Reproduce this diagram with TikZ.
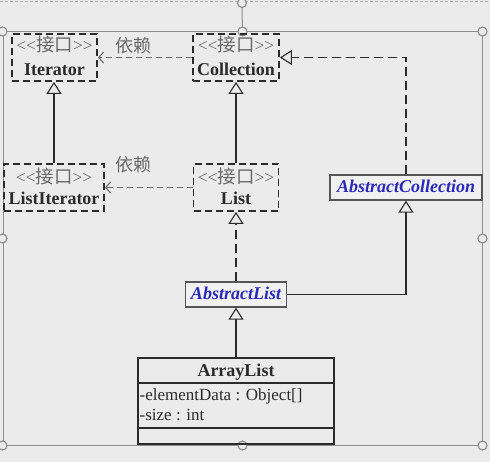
\documentclass[tikz,border=0pt]{standalone}
\usepackage{fontspec}
\setmainfont{Liberation Serif}
\newfontfamily\cjk{Noto Sans CJK SC}
\usetikzlibrary{arrows.meta}
\definecolor{bg}{HTML}{EBEBEB}
\definecolor{frameg}{HTML}{8E8E8E}
\definecolor{ink}{HTML}{2B2B2B}
\definecolor{stg}{HTML}{6A6A6A}
\definecolor{absblue}{HTML}{2A2AB8}
\definecolor{absfill}{HTML}{F1F1F1}
\newcommand\ster{<\kern0pt<{\cjk\fontsize{18.5}{19}\selectfont 接口}>\kern0pt>}
\tikzset{
  ifbox/.style={draw=ink, line width=1.8pt, dash pattern=on 7pt off 4pt, inner sep=0pt},
  absbox/.style={draw=ink!80, line width=1.3pt, fill=absfill, inner sep=0pt},
  clsbox/.style={draw=ink, line width=1.8pt, inner sep=0pt},
  stereo/.style={text=stg, inner sep=0pt, font=\fontsize{17.5}{18}\selectfont},
  iname/.style={text=ink, inner sep=0pt, anchor=base, font=\fontsize{18}{20}\selectfont\bfseries},
  aname/.style={text=absblue, inner sep=0pt, anchor=base, font=\fontsize{18}{20}\selectfont\bfseries\itshape},
  attr/.style={text=ink, inner sep=0pt, anchor=base west, font=\fontsize{17}{19}\selectfont},
  deplabel/.style={text=stg, inner sep=0pt, font=\fontsize{18}{19}\selectfont\cjk},
  dep/.style={draw=stg, line width=1.3pt, dash pattern=on 6pt off 4pt, -{Straight Barb[length=5pt,width=11pt,line width=1.1pt]}},
  gen/.style={draw=ink, line width=1.8pt, -{Triangle[open,length=12pt,width=15pt,line width=1.1pt]}},
  real/.style={draw=ink, line width=1.8pt, dash pattern=on 9pt off 5pt, -{Triangle[open,length=12pt,width=15pt,line width=1.1pt]}},
  handle/.style={circle, draw=frameg, fill=bg, line width=1.2pt, minimum size=9pt, inner sep=0pt},
}
\begin{document}
\begin{tikzpicture}[x=1pt,y=-1pt]
\fill[bg] (0,0) rectangle (490,462);
\useasboundingbox (0,0) rectangle (490,462);
% selection frame (editor overlay)
\draw[frameg!70, line width=0.8pt, dash pattern=on 3pt off 2pt] (0,1) -- (490,1);
\node[draw=frameg, line width=1pt, minimum width=479pt, minimum height=413pt, inner sep=0pt] (frame) at (242.5,238.5) {};
\node[handle] (rot) at (242,3) {};
\draw[frameg, line width=1pt] (rot.south) -- (frame.north);
\node[handle] (h1) at (frame.north west) {};
\node[handle] (h2) at (frame.north) {};
\node[handle] (h3) at (frame.north east) {};
\node[handle] (h4) at (frame.west) {};
\node[handle] (h5) at (frame.east) {};
\node[handle] (h6) at (frame.south west) {};
\node[handle] (h7) at (frame.south) {};
\node[handle] (h8) at (frame.south east) {};
% interface boxes
\node[ifbox, minimum width=85pt, minimum height=47pt] (it) at (54.5,57.5) {};
\node[stereo] (itS) at (54.5,45) {\ster};
\node[iname] (itN) at (54.5,76) {Iterator};
\node[ifbox, minimum width=86pt, minimum height=47pt] (co) at (236,57.5) {};
\node[stereo] (coS) at (236,45) {\ster};
\node[iname] (coN) at (236,76) {Collection};
\node[ifbox, minimum width=100pt, minimum height=47pt] (lit) at (54,187.5) {};
\node[stereo] (litS) at (54,176) {\ster};
\node[iname] (litN) at (54,205) {ListIterator};
\node[ifbox, minimum width=85pt, minimum height=47pt] (li) at (236,187.5) {};
\node[stereo] (liS) at (236,176) {\ster};
\node[iname] (liN) at (236,205) {List};
% abstract classes
\node[absbox, minimum width=152pt, minimum height=25pt] (ac) at (406,187.5) {};
\node[aname] (acN) at (406,193) {AbstractCollection};
\node[absbox, minimum width=101pt, minimum height=25pt] (al) at (236,294.5) {};
\node[aname] (alN) at (236,300) {AbstractList};
% ArrayList class
\node[clsbox, minimum width=196pt, minimum height=86pt] (ar) at (236,401) {};
\node[iname] (arN) at (236,376) {ArrayList};
\coordinate (d1) at (138,383);
\coordinate (d2) at (138,428);
\draw[ink, line width=1.8pt] (ar.west |- d1) -- (ar.east |- d1);
\draw[ink, line width=1.8pt] (ar.west |- d2) -- (ar.east |- d2);
\node[attr] (at1) at (139.5,400) {-elementData : Object[]};
\node[attr] (at2) at (139.5,420) {-size : int};
% connectors
\draw[dep] (co.west) -- (it.east);
\node[deplabel] (dl1) at (133,46) {依赖};
\draw[dep] (li.west) -- (lit.east);
\node[deplabel] (dl2) at (133,165) {依赖};
\draw[gen] (lit.north) -- (lit.north |- it.south);
\draw[gen] (li.north) -- (co.south);
\draw[real] (al.north) -- (li.south);
\draw[real] (ac.north) |- (co.east);
\draw[gen] (al.east) -| (ac.south);
\draw[gen] (ar.north) -- (al.south);
\end{tikzpicture}
\end{document}
